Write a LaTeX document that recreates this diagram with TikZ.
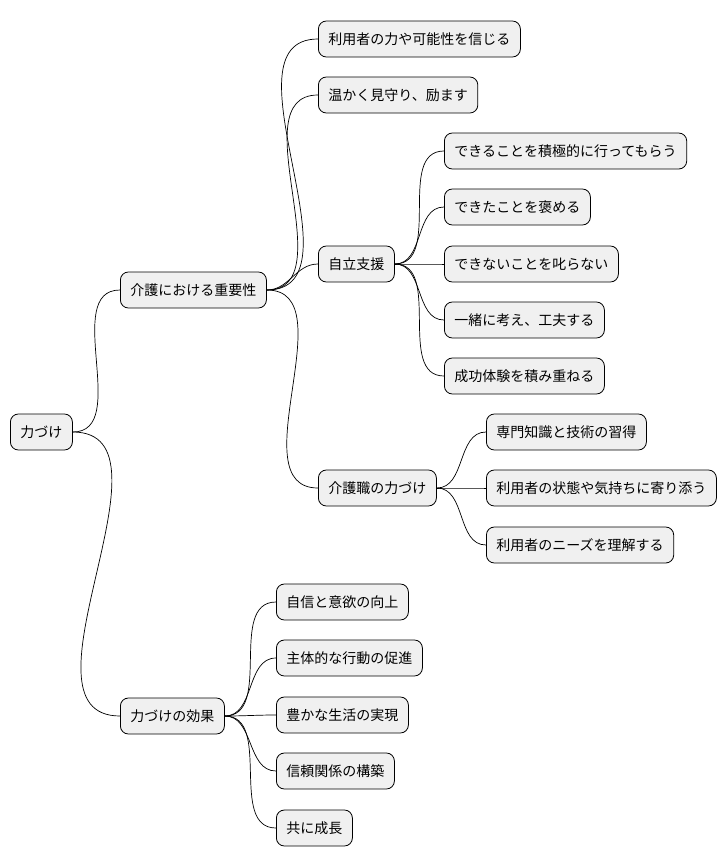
\documentclass[tikz,border=0pt]{standalone}
\usepackage{fontspec}
\setmainfont{Noto Sans CJK JP}

\begin{document}
\begin{tikzpicture}[x=1pt,y=-1pt,
  topic/.style={draw=black,fill=black!6,rounded corners=8pt,line width=0.8pt,
    minimum height=36pt,inner xsep=10pt,anchor=west,font=\fontsize{14pt}{16pt}\selectfont},
  link/.style={line width=0.7pt,out=0,in=180}]
\useasboundingbox (0,0) rectangle (726,865);

% Root and first level
\node[topic] (root) at (10,432) {力づけ};
\node[topic] (care) at (120,290) {介護における重要性};
\node[topic] (eff)  at (120,716) {力づけの効果};

% Importance in care
\node[topic] (trust)  at (318,39)  {利用者の力や可能性を信じる};
\node[topic] (watch)  at (318,95)  {温かく見守り、励ます};
\node[topic] (indep)  at (318,264) {自立支援};
\node[topic] (staff)  at (318,488) {介護職の力づけ};

% Independence support
\node[topic] (i1) at (444,151) {できることを積極的に行ってもらう};
\node[topic] (i2) at (444,207) {できたことを褒める};
\node[topic] (i3) at (444,264) {できないことを叱らない};
\node[topic] (i4) at (444,320) {一緒に考え、工夫する};
\node[topic] (i5) at (444,376) {成功体験を積み重ねる};

% Staff empowerment
\node[topic] (s1) at (486,432) {専門知識と技術の習得};
\node[topic] (s2) at (486,488) {利用者の状態や気持ちに寄り添う};
\node[topic] (s3) at (486,545) {利用者のニーズを理解する};

% Effects
\node[topic] (e1) at (276,602) {自信と意欲の向上};
\node[topic] (e2) at (276,658) {主体的な行動の促進};
\node[topic] (e3) at (276,715) {豊かな生活の実現};
\node[topic] (e4) at (276,771) {信頼関係の構築};
\node[topic] (e5) at (276,828) {共に成長};

% Connectors
\draw[link] (root.east) to (care.west);
\draw[link] (root.east) to (eff.west);
\foreach \c in {trust,watch,indep,staff}
  \draw[link] (care.east) to (\c.west);
\foreach \c in {i1,i2,i3,i4,i5}
  \draw[link] (indep.east) to (\c.west);
\foreach \c in {s1,s2,s3}
  \draw[link] (staff.east) to (\c.west);
\foreach \c in {e1,e2,e3,e4,e5}
  \draw[link] (eff.east) to (\c.west);

\end{tikzpicture}
\end{document}
